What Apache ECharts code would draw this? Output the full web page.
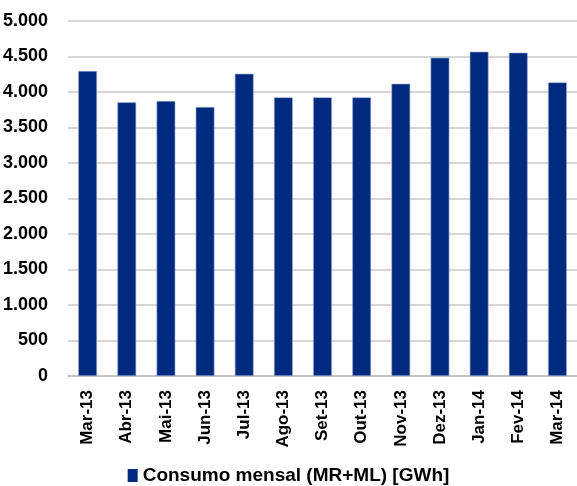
<!DOCTYPE html>
<html>
<head>
<meta charset="utf-8">
<script src="https://cdn.jsdelivr.net/npm/echarts@6/dist/echarts.min.js"></script>
<style>
  html, body { margin: 0; padding: 0; background: #fff; }
  #main { width: 577px; height: 486px; }
</style>
</head>
<body>
<div id="main"></div>
<script>
// meses e consumo (GWh)
const meses = ['Mar-13', 'Abr-13', 'Mai-13', 'Jun-13', 'Jul-13', 'Ago-13', 'Set-13',
  'Out-13', 'Nov-13', 'Dez-13', 'Jan-14', 'Fev-14', 'Mar-14'];
const consumo = [4296, 3855, 3873, 3789, 4258, 3925, 3925, 3925, 4117, 4483, 4568, 4554, 4136];
const serieNome = 'Consumo mensal (MR+ML) [GWh]';

const fonte = "'Liberation Sans Narrow', 'Arial Narrow', 'Liberation Sans', sans-serif";

function fmt(v) {
  return String(v).replace(/\B(?=(\d{3})+(?!\d))/g, '.');
}

let myChart = echarts.init(document.getElementById('main'));
myChart.setOption({
  animation: false,
  grid: { left: 68, right: 0, top: 21, bottom: 110 },
  legend: {
    top: 461,
    left: 'center',
    itemWidth: 10,
    itemHeight: 13,
    itemGap: 4,
    icon: 'rect',
    itemStyle: { borderWidth: 0 },
    textStyle: { fontFamily: fonte, fontWeight: 'bold', fontSize: 19, color: '#000' },
    data: [serieNome]
  },
  xAxis: {
    type: 'category',
    data: meses,
    axisLine: { lineStyle: { color: '#bfbfbf', width: 1.5 } },
    axisTick: { show: false },
    axisLabel: {
      rotate: 90,
      interval: 0,
      margin: 14,
      fontFamily: fonte,
      fontWeight: 'bold',
      fontSize: 17,
      color: '#000'
    }
  },
  yAxis: {
    type: 'value',
    min: 0,
    max: 5000,
    interval: 500,
    axisLine: { show: false },
    axisTick: { show: false },
    splitLine: { lineStyle: { color: '#c8c8c8', width: 1.5 } },
    axisLabel: {
      margin: 20,
      fontFamily: fonte,
      fontWeight: 'bold',
      fontSize: 18,
      color: '#000',
      formatter: fmt
    }
  },
  series: [{
    name: serieNome,
    type: 'bar',
    data: consumo,
    barWidth: '48%',
    itemStyle: { color: '#002A7F', borderColor: '#9fb0d0', borderWidth: 0.6 }
  }]
});
</script>
</body>
</html>
